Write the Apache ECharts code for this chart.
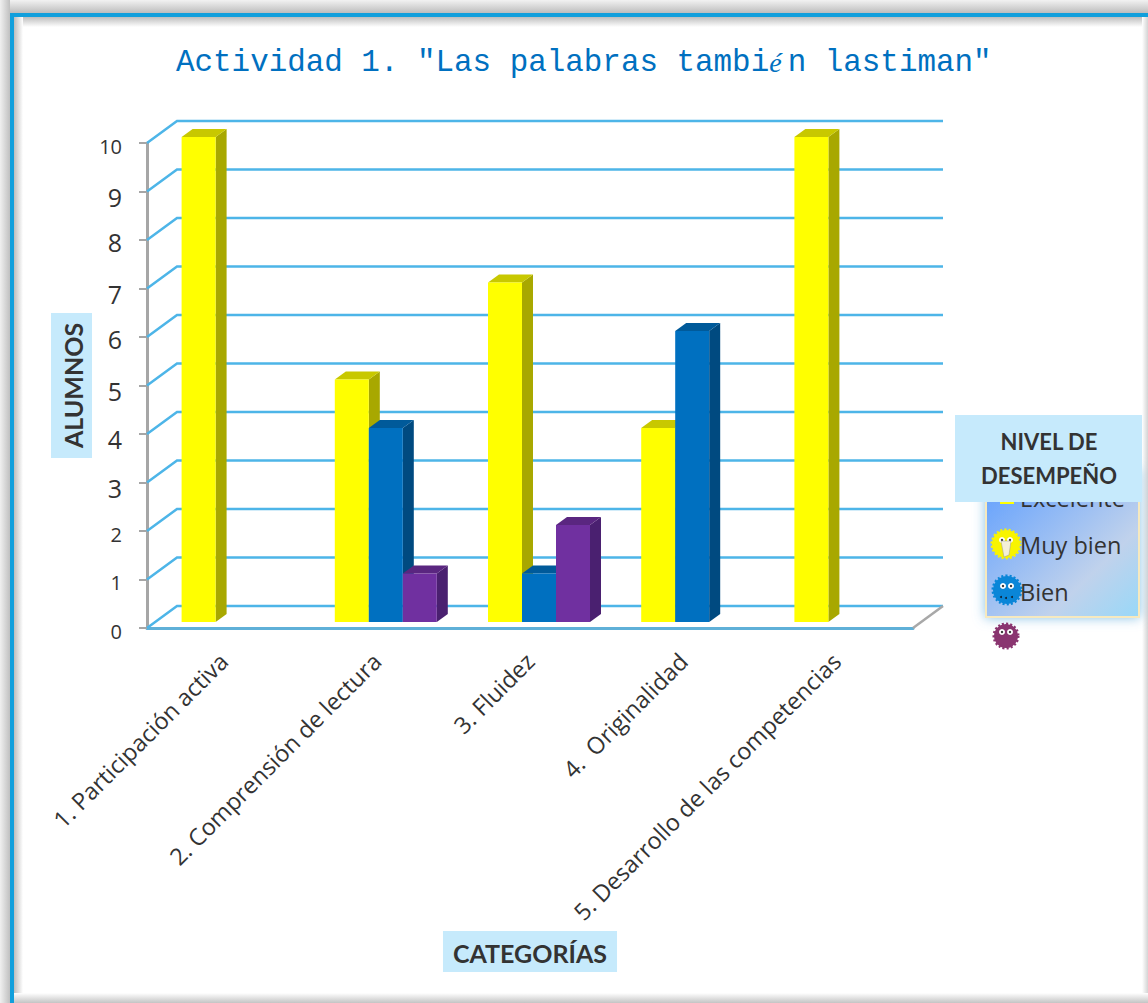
<!DOCTYPE html>
<html>
<head>
<meta charset="utf-8">
<style>
  html, body { margin: 0; padding: 0; background: #fff; }
  #main { width: 1148px; height: 1003px; }
</style>
<script src="https://cdn.jsdelivr.net/npm/echarts@6/dist/echarts.min.js"></script>
</head>
<body>
<div id="main"></div>
<script>
var categories = [
  "1. Participación activa",
  "2. Comprensión de lectura",
  "3. Fluidez",
  "4.  Originalidad",
  "5. Desarrollo de las competencias"
];
var yellowValues = [10, 5, 7, 4, 10];
var blueValues = [0, 4, 1, 6, 0];
var purpleValues = [0, 1, 2, 0, 0];
var yTicks = [0, 1, 2, 3, 4, 5, 6, 7, 8, 9, 10];
var legendNames = ["Excelente", "Muy bien", "Bien"];

var labelFont = "Open Sans";
var boldFont = "Lato";

// 3d look of the bars and of the back wall
var barW = 34, barDx = 11, barDy = 8, barLift = 6, wallDx = 30, wallDy = 22;

function bar3d(slot, front, top, side) {
  return function (params, api) {
    var val = api.value(1);
    if (!val) return null;
    var p = api.coord([api.value(0), val]);
    var b = api.coord([api.value(0), 0]);
    var x = p[0] - 42 + slot * barW;
    var y1 = p[1] - barLift, y0 = b[1] - barLift;
    return {
      type: "group",
      children: [
        { type: "polygon", shape: { points: [[x + barW, y1], [x + barW + barDx, y1 - barDy], [x + barW + barDx, y0 - barDy], [x + barW, y0]] }, style: { fill: side } },
        { type: "polygon", shape: { points: [[x, y1], [x + barDx, y1 - barDy], [x + barW + barDx, y1 - barDy], [x + barW, y1]] }, style: { fill: top } },
        { type: "rect", shape: { x: x, y: y1, width: barW, height: y0 - y1 }, style: { fill: front } }
      ]
    };
  };
}

function wallLine(params, api) {
  var c = params.coordSys;
  var y = api.coord([0, api.value(0)])[1];
  return {
    type: "polyline",
    shape: { points: [[c.x, y], [c.x + wallDx, y - wallDy], [c.x + c.width + wallDx, y - wallDy]] },
    style: { stroke: "#4db5e8", lineWidth: 2.5, fill: null }
  };
}

function floorSide(params) {
  var c = params.coordSys;
  var y = c.y + c.height;
  return {
    type: "line",
    shape: { x1: c.x + c.width, y1: y, x2: c.x + c.width + wallDx, y2: y - wallDy },
    style: { stroke: "#a8a8a8", lineWidth: 2.5 }
  };
}

function grad(x, y, x2, y2, a, b) {
  return { type: "linear", x: x, y: y, x2: x2, y2: y2, colorStops: [{ offset: 0, color: a }, { offset: 1, color: b }] };
}

function band(x, y, w, h, fill) {
  return { type: "rect", silent: true, z: 1, shape: { x: x, y: y, width: w, height: h }, style: { fill: fill } };
}

function dot(cx, cy, r, fill) {
  return { type: "circle", z: 31, shape: { cx: cx, cy: cy, r: r }, style: { fill: fill } };
}

function face(cx, cy, r, color) {
  return [
    { type: "circle", z: 30, shape: { cx: cx, cy: cy, r: r }, style: { fill: color, stroke: color, lineWidth: 3, lineDash: [2, 2] } },
    dot(cx - 4, cy - 4, 3, "#fff"),
    dot(cx + 4, cy - 4, 3, "#fff"),
    dot(cx - 4, cy - 4, 1.2, "#333"),
    dot(cx + 4, cy - 4, 1.2, "#333")
  ];
}

// old style figures: small ones sit low, the others hang under the line
var figureClass = { 0: "a", 1: "a", 2: "a", 3: "b", 4: "b", 5: "b", 6: "c", 7: "b", 8: "c", 9: "b" };
function oldStyleLabel(v) {
  return String(v).split("").map(function (d) {
    return "{" + figureClass[d] + "|" + d + "}";
  }).join("");
}

var graphics = [
  // frame
  band(0, 0, 1148, 13, grad(0, 0, 0, 1, "#f2f2f2", "#bdbdbd")),
  band(0, 0, 10, 1003, grad(0, 0, 1, 0, "#f0f0f0", "#c0c0c0")),
  band(14, 17, 1134, 10, grad(0, 0, 0, 1, "#bdbdbd", "#ffffff")),
  band(14, 17, 9, 986, grad(0, 0, 1, 0, "#bdbdbd", "#ffffff")),
  band(1142, 17, 6, 986, grad(0, 0, 1, 0, "#ffffff", "#d4d4d4")),
  band(14, 993, 1134, 10, grad(0, 0, 0, 1, "#ffffff", "#c4c4c4")),
  band(10, 13, 1138, 4, "#119fdc"),
  band(10, 13, 4, 990, "#119fdc"),
  // legend box
  {
    type: "rect", z: 20,
    shape: { x: 986, y: 470, width: 153, height: 147 },
    style: {
      fill: {
        type: "linear", x: 0, y: 0, x2: 1, y2: 1,
        colorStops: [{ offset: 0, color: "#5c9dff" }, { offset: 0.7, color: "#c0d2ec" }, { offset: 1, color: "#98d8f8" }]
      },
      stroke: "#f6e9bf", lineWidth: 2,
      shadowBlur: 12, shadowColor: "rgba(90,170,220,0.7)"
    }
  },
  { type: "rect", z: 30, shape: { x: 1000, y: 490, width: 14, height: 14 }, style: { fill: "#ffff00" } }
];

graphics = graphics.concat(
  face(1006, 544, 14, "#f8f400"),
  [{ type: "polygon", z: 31, shape: { points: [[1001, 541], [1011, 541], [1009, 555], [1004, 557]] }, style: { fill: "#f4f0d8", stroke: "#999", lineWidth: 0.5 } }],
  face(1007, 590, 14, "#0a86d8"),
  [dot(1001, 597, 1, "#123"), dot(1006, 598, 1, "#123"), dot(1012, 597, 1, "#123")],
  face(1006, 636, 12, "#8a3570")
);

var legendYs = [498, 545, 592];
legendNames.forEach(function (name, i) {
  graphics.push({
    type: "text", z: 32, x: 1020, y: legendYs[i],
    style: { text: name, font: "23.5px " + labelFont, fill: "#333", verticalAlign: "middle" }
  });
});

graphics.push(
  { type: "rect", z: 40, shape: { x: 955, y: 415, width: 187, height: 87 }, style: { fill: "#c6eafc" } },
  { type: "text", z: 41, x: 1049, y: 441, style: { text: "NIVEL DE", font: "bold 22px " + boldFont, fill: "#333", align: "center", verticalAlign: "middle" } },
  { type: "text", z: 41, x: 1049, y: 475, style: { text: "DESEMPEÑO", font: "bold 22px " + boldFont, fill: "#333", align: "center", verticalAlign: "middle" } }
);

function indexed(list) {
  return list.map(function (v, i) { return [i, v]; });
}

var chart = echarts.init(document.getElementById("main"), null, { renderer: "svg" });
chart.setOption({
  animation: false,
  backgroundColor: "#fff",
  title: {
    left: 171,
    top: 42,
    text: '{m|Actividad 1. "Las palabras tambi}{e|é}{m|n lastiman"}',
    textStyle: {
      fontWeight: "normal",
      rich: {
        m: { fontFamily: "Liberation Mono", fontWeight: "normal", fontSize: 30.9, color: "#0070c0" },
        e: { fontFamily: "Liberation Serif", fontStyle: "italic", fontWeight: "normal", fontSize: 28, color: "#0070c0", width: 18.5 }
      }
    }
  },
  grid: { left: 147, right: 235, top: 143, bottom: 375 },
  xAxis: {
    type: "category",
    data: categories,
    name: "CATEGORÍAS",
    nameLocation: "middle",
    nameGap: 303,
    nameMoveOverlap: false,
    nameTextStyle: {
      fontFamily: boldFont, fontWeight: "bold", fontSize: 25, color: "#333",
      backgroundColor: "#c6eafc", padding: [9, 10, 7, 10]
    },
    axisLine: { lineStyle: { color: "#5fb0d8", width: 3 } },
    axisTick: { show: false },
    axisLabel: {
      interval: 0, rotate: 45, margin: 29,
      fontFamily: labelFont, fontSize: 23.4, color: "#333"
    }
  },
  yAxis: {
    type: "value",
    min: 0,
    max: 10,
    interval: 1,
    name: "ALUMNOS",
    nameLocation: "middle",
    nameGap: 55,
    nameMoveOverlap: false,
    nameTextStyle: {
      fontFamily: boldFont, fontWeight: "bold", fontSize: 25, color: "#333",
      backgroundColor: "#c6eafc", padding: [9, 10, 7, 10]
    },
    axisLine: { show: true, onZero: false, lineStyle: { color: "#a6a6a6", width: 3 } },
    axisTick: { show: true, length: 8, lineStyle: { color: "#a6a6a6", width: 2 } },
    axisLabel: {
      margin: 25,
      formatter: oldStyleLabel,
      rich: {
        a: { fontFamily: labelFont, fontSize: 20, color: "#333", padding: [6, 0, 0, 0] },
        b: { fontFamily: labelFont, fontSize: 25, color: "#333", padding: [10, 0, 0, 0] },
        c: { fontFamily: labelFont, fontSize: 25, color: "#333", padding: [3, 0, 0, 0] }
      }
    },
    splitLine: { show: false }
  },
  series: [
    { type: "custom", name: "pared", silent: true, z: 1, data: yTicks.map(function (t) { return [t]; }), renderItem: wallLine, encode: { y: 0 }, clip: false },
    { type: "custom", name: "piso", silent: true, z: 1, data: [[0]], renderItem: floorSide, clip: false },
    { type: "custom", name: "Muy bien", z: 3, data: indexed(yellowValues), encode: { x: 0, y: 1 }, clip: false, renderItem: bar3d(0, "#ffff00", "#c8c800", "#a8a800") },
    { type: "custom", name: "Bien", z: 4, data: indexed(blueValues), encode: { x: 0, y: 1 }, clip: false, renderItem: bar3d(1, "#0070c0", "#005a9a", "#004a80") },
    { type: "custom", name: "", z: 5, data: indexed(purpleValues), encode: { x: 0, y: 1 }, clip: false, renderItem: bar3d(2, "#7030a0", "#5a2680", "#4a2070") }
  ],
  graphic: { elements: graphics }
});
</script>
</body>
</html>
